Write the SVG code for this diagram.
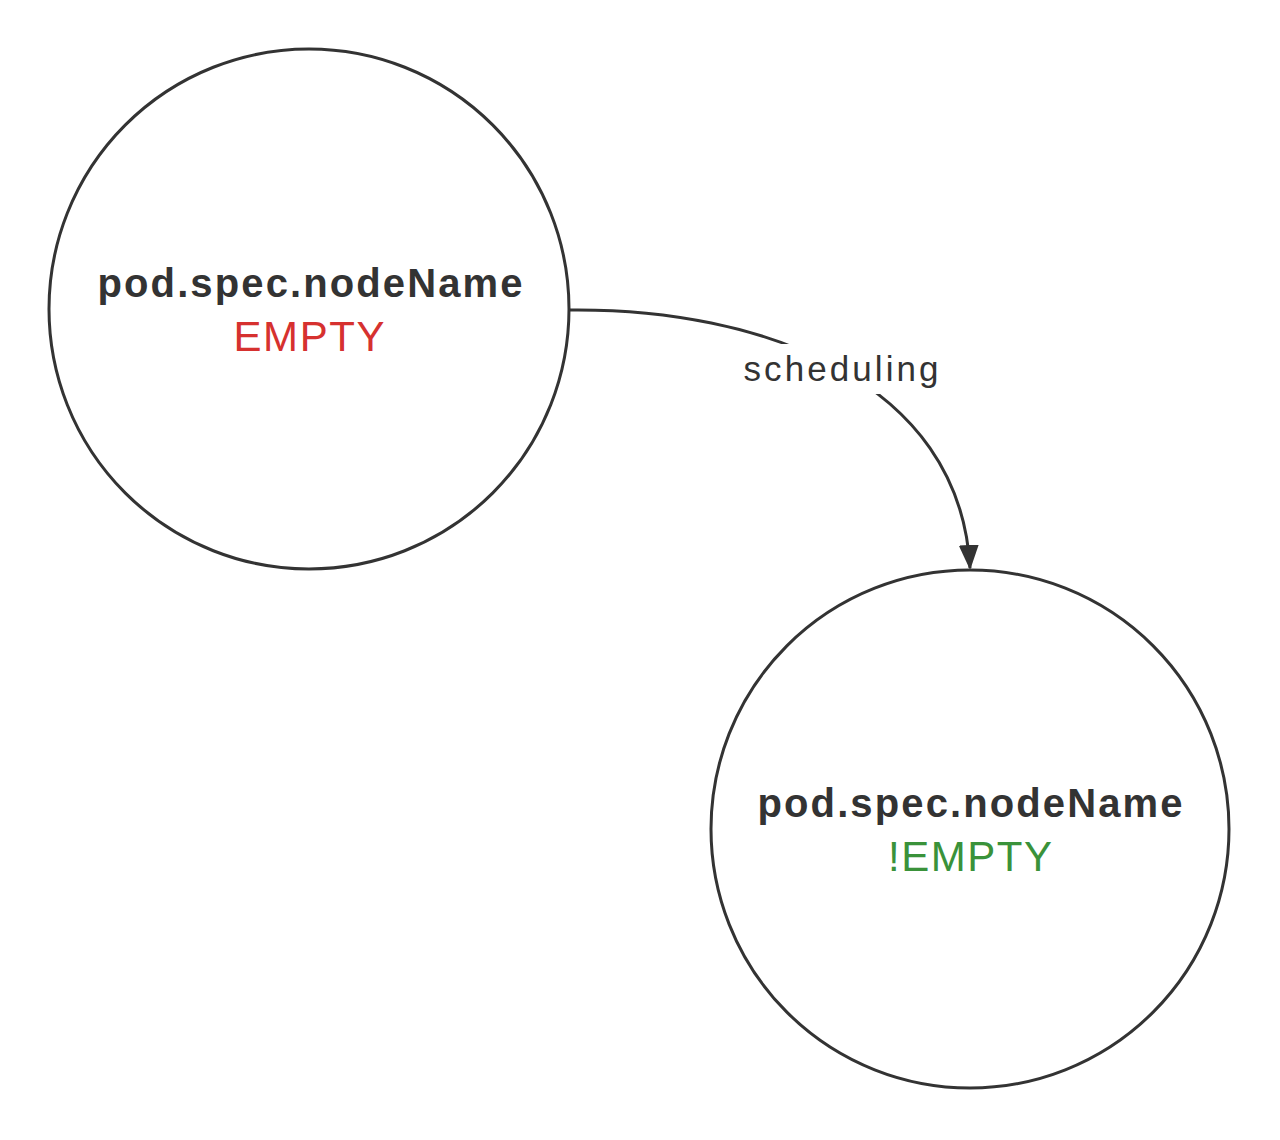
<svg xmlns="http://www.w3.org/2000/svg" width="1280" height="1140" viewBox="0 0 1280 1140">
  <style>
    .node { fill: #ffffff; stroke: #333333; stroke-width: 3; }
    .title { font-family: "Liberation Sans", Arial, sans-serif; font-size: 40px; font-weight: bold; fill: #333333; text-anchor: middle; }
    .state { font-family: "Liberation Sans", Arial, sans-serif; font-size: 42px; text-anchor: middle; }
    .edge { fill: none; stroke: #333333; stroke-width: 3; }
    .label { font-family: "Liberation Sans", Arial, sans-serif; font-size: 35px; fill: #333333; text-anchor: middle; }
  </style>
  <defs>
    <marker id="arrow" markerUnits="userSpaceOnUse" markerWidth="26" markerHeight="22" refX="23" refY="10" orient="auto">
      <path d="M0,0 L25,10 L0,20 z" fill="#333333"/>
    </marker>
  </defs>
  <rect width="1280" height="1140" fill="#ffffff"/>
  <g id="connectors">
    <path class="edge" d="M570,310 C760,308 960,380 970,568" marker-end="url(#arrow)"/>
    <rect x="738" y="344" width="208" height="50" fill="#ffffff"/>
    <text class="label" x="841" y="381" textLength="195" lengthAdjust="spacing">scheduling</text>
  </g>
  <g id="node-empty">
    <circle class="node" cx="309" cy="309" r="260"/>
    <text class="title" x="310" y="297" textLength="425" lengthAdjust="spacing">pod.spec.nodeName</text>
    <text class="state" x="309" y="351" fill="#d6312f" textLength="151" lengthAdjust="spacing">EMPTY</text>
  </g>
  <g id="node-not-empty">
    <circle class="node" cx="970" cy="829" r="259"/>
    <text class="title" x="970" y="817" textLength="425" lengthAdjust="spacing">pod.spec.nodeName</text>
    <text class="state" x="970" y="871" fill="#3a923a" textLength="164" lengthAdjust="spacing">!EMPTY</text>
  </g>
</svg>
